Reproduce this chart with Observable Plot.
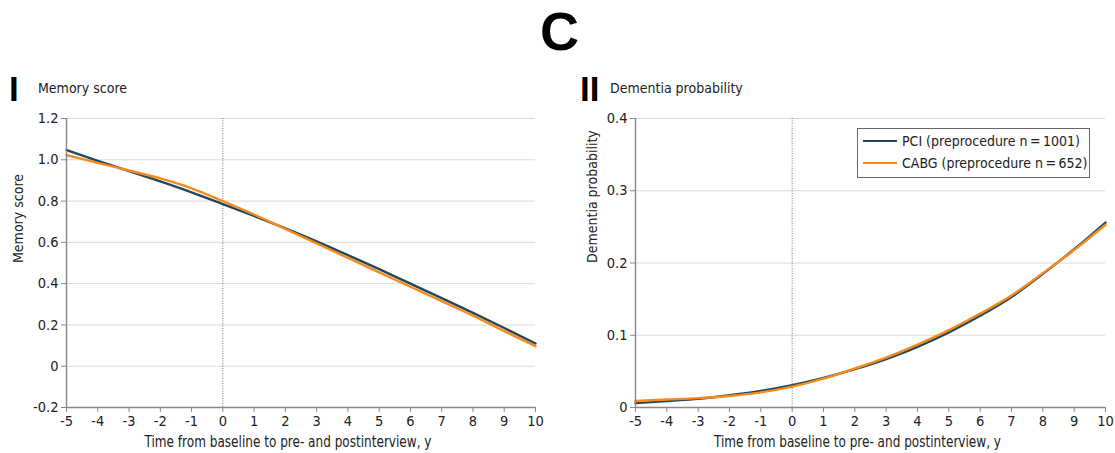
<!DOCTYPE html>
<html><head><meta charset="utf-8">
<script src="https://cdn.jsdelivr.net/npm/d3@7"></script>
<script src="https://cdn.jsdelivr.net/npm/@observablehq/plot@0.6"></script>
<style>
body{margin:0;background:#fff;}
#wrap{position:relative;width:1115px;height:453px;overflow:hidden;font-family:"DejaVu Sans Condensed",sans-serif;color:#222;}
.abs{position:absolute;white-space:nowrap;}
#title{left:2px;width:1115px;text-align:center;top:1px;font:bold 54px "Liberation Sans",Arial,sans-serif;color:#000;line-height:60px;}
.pnum{font:900 35px "Liberation Sans",Arial,sans-serif;color:#000;line-height:36px;}
.ptitle{font-size:14px;line-height:18px;}
#legend{left:857px;top:128px;width:233px;height:50px;border:1px solid #666;box-sizing:border-box;background:#fff;font-size:14px;}
.lg{position:absolute;left:5px;display:flex;align-items:center;}
.lg span.sw{display:inline-block;width:34px;height:2px;margin-right:5px;}
</style></head>
<body><div id="wrap">
<div id="title" class="abs">C</div>
<div class="abs pnum" style="left:9px;top:71px;">I</div>
<div class="abs ptitle" style="left:38px;top:79px;">Memory score</div>
<div class="abs pnum" style="left:580px;top:71px;">II</div>
<div class="abs ptitle" style="left:610px;top:79px;">Dementia probability</div>
<div id="left" class="abs" style="left:0;top:105px;"></div>
<div id="right" class="abs" style="left:570px;top:105px;"></div>
<div id="legend" class="abs"></div>
</div>
<script>
const years = [-5,-4,-3,-2,-1,0,1,2,3,4,5,6,7,8,9,10];
const groups = ["PCI (preprocedure n\u2009=\u20091001)", "CABG (preprocedure n\u2009=\u2009652)"];
const memoryPCI  = [1.047,0.995,0.945,0.895,0.842,0.785,0.728,0.668,0.605,0.538,0.470,0.400,0.330,0.258,0.185,0.110];
const memoryCABG = [1.023,0.985,0.948,0.910,0.862,0.800,0.735,0.665,0.595,0.525,0.455,0.385,0.315,0.245,0.170,0.097];
const dementiaPCI  = [0.006,0.009,0.012,0.017,0.023,0.031,0.041,0.053,0.067,0.084,0.104,0.127,0.153,0.185,0.219,0.256];
const dementiaCABG = [0.009,0.011,0.013,0.016,0.021,0.029,0.040,0.054,0.069,0.087,0.107,0.130,0.155,0.186,0.218,0.253];
const xTicks = [-5,-4,-3,-2,-1,0,1,2,3,4,5,6,7,8,9,10];
const memTicks = [-0.2,0,0.2,0.4,0.6,0.8,1.0,1.2];
const demTicks = [0,0.1,0.2,0.3,0.4];
const colors = ["#22465a","#f58b1f"];
const xLabel = "Time from baseline to pre- and postinterview, y";

function rows(a,b){
  return years.map((x,i)=>({x,y:a[i],g:groups[0]})).concat(years.map((x,i)=>({x,y:b[i],g:groups[1]})));
}
const fmtY = d => d===0 ? "0" : d.toFixed(1);
const fmtX = d => String(d);

function panel({data, yDomain, yTicks, yLabel, width, marginLeft, marginRight, ydx}){
  const svg = Plot.plot({
    width, height:348, marginLeft, marginRight, marginTop:13, marginBottom:46,
    style:{fontFamily:'"DejaVu Sans Condensed",sans-serif', fontSize:"14px", color:"#222", background:"#fff"},
    x:{domain:[-5,10]},
    y:{domain:yDomain},
    color:{domain:groups, range:colors},
    marks:[
      Plot.gridY(yTicks,{stroke:"#dadada", strokeOpacity:1}),
      Plot.ruleX([0],{stroke:"#777", strokeDasharray:"1,1.5", strokeWidth:1}),
      Plot.line(data,{x:"x",y:"y",stroke:"g",z:"g",curve:"monotone-x",strokeWidth:2.4}),
      Plot.ruleY([yDomain[0]],{stroke:"#888",strokeWidth:1.4}),
      Plot.ruleX([-5],{stroke:"#888",strokeWidth:1.4}),
      Plot.axisX(xTicks,{tickFormat:fmtX, tickSize:5, stroke:"#888", tickPadding:3, fontSize:14.5, label:null}),
      Plot.axisY(yTicks,{tickFormat:fmtY, tickSize:5, stroke:"#888", tickPadding:3, fontSize:14.5, label:null}),
      Plot.text([xLabel],{frameAnchor:"bottom", dy:39, dx:-13, fontSize:15, fill:"#222", className:"xlab"}),
      Plot.text([yLabel],{frameAnchor:"left", dx:ydx, rotate:-90, fontSize:14, fill:"#222"})
    ]
  });
  svg.querySelectorAll(".xlab text").forEach(t=>{ t.setAttribute("textLength","287"); t.setAttribute("lengthAdjust","spacingAndGlyphs"); });
  return svg;
}

document.getElementById("left").append(panel({
  data: rows(memoryPCI, memoryCABG), yDomain:[-0.2,1.2], yTicks:memTicks, yLabel:"Memory score",
  width:550, marginLeft:66, marginRight:15, ydx:-48
}));
document.getElementById("right").append(panel({
  data: rows(dementiaPCI, dementiaCABG), yDomain:[0,0.4], yTicks:demTicks, yLabel:"Dementia probability",
  width:545, marginLeft:65, marginRight:10, ydx:-43
}));

const lg = document.getElementById("legend");
groups.forEach((g,i)=>{
  const d = document.createElement("div");
  d.className="lg";
  d.style.top = (i===0 ? 4 : 26) + "px";
  d.innerHTML = `<span class="sw" style="background:${colors[i]}"></span><span>${g}</span>`;
  lg.append(d);
});
</script>
</body></html>
